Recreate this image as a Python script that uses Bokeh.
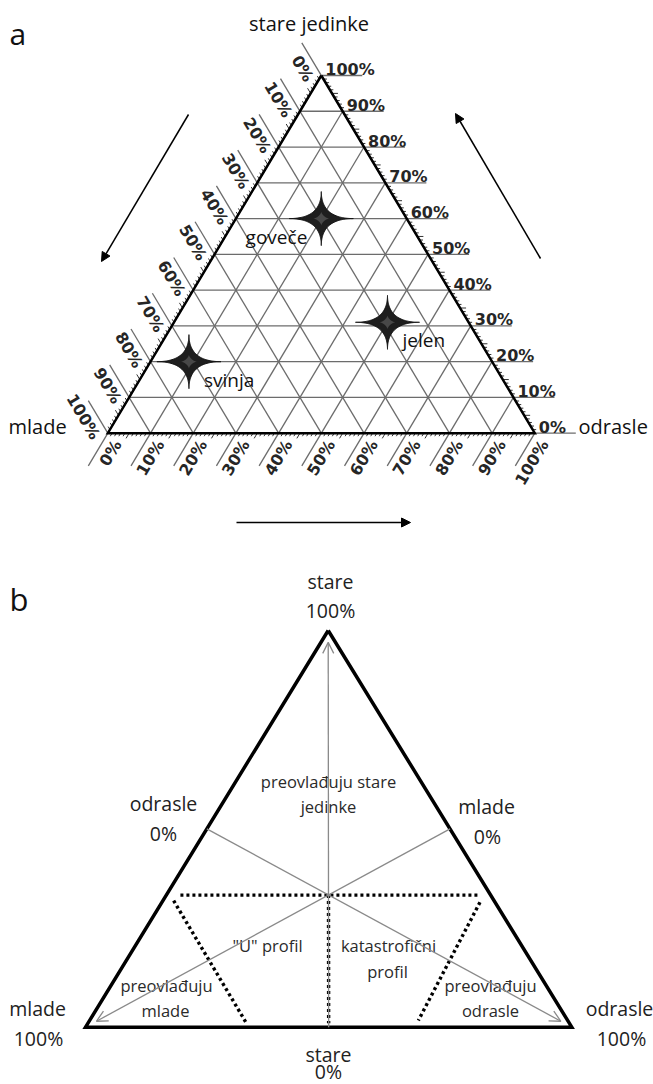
import math
import numpy as np
from bokeh.plotting import figure
from bokeh.models import Range1d, Arrow, NormalHead, OpenHead
from bokeh.core.properties import value
from bokeh.embed import file_html
from bokeh.resources import INLINE

# ---------------- data ----------------
grid_pct = [10, 20, 30, 40, 50, 60, 70, 80, 90]
label_pct = [0, 10, 20, 30, 40, 50, 60, 70, 80, 90, 100]
tick_labels = ["0%", "10%", "20%", "30%", "40%", "50%", "60%", "70%", "80%", "90%", "100%"]
minor_pct = list(range(1, 100))

species = ["goveče", "jelen", "svinja"]
sp_stare = [60, 31, 20]
sp_mlade = [20, 19, 71]
sp_odrasle = [20, 50, 9]
species_side = ["left", "right", "right"]

titles_a = ["stare jedinke", "mlade", "odrasle"]

# panel b: compositions (stare, mlade, odrasle) as fractions
b_median_starts = [(0.0, 0.5, 0.5), (0.5, 0.0, 0.5), (0.5, 0.5, 0.0)]
b_median_ends = [(1.0, 0.0, 0.0), (0.0, 1.0, 0.0), (0.0, 0.0, 1.0)]
b_bounds = [
    [(0.333, 0.638, 0.029), (0.333, 0.025, 0.642)],   # stare = 1/3
    [(0.319, 0.659, 0.022), (0.013, 0.664, 0.323)],   # mlade ~ 2/3
    [(0.315, 0.031, 0.654), (0.017, 0.307, 0.676)],   # odrasle ~ 2/3
    [(1 / 3, 1 / 3, 1 / 3), (0.010, 0.495, 0.495)],   # stare axis below centre
]
b_corner_titles = ["stare", "100%", "odrasle", "0%", "mlade", "0%",
                   "mlade", "100%", "odrasle", "100%", "stare", "0%"]
b_zone_texts = ["preovlađuju stare", "jedinke", "\"U\" profil", "katastrofični", "profil",
                "preovlađuju", "mlade", "preovlađuju", "odrasle"]

# ---------------- figure ----------------
W, H = 653, 1084
p = figure(width=W, height=H, x_range=Range1d(0, W), y_range=Range1d(0, H),
           output_backend="svg", toolbar_location=None, min_border=0,
           x_axis_location=None, y_axis_location=None)
p.grid.visible = False
p.outline_line_color = None
p.background_fill_color = "white"


def Y(yi):
    return H - yi


def tern(V, s, m, o):
    T, BL, BR = V
    return np.array([s * T[0] + m * BL[0] + o * BR[0], s * T[1] + m * BL[1] + o * BR[1]])


def unit(v):
    v = np.asarray(v, dtype=float)
    return v / np.hypot(*v)


# ================= panel a =================
aT = np.array([320.8, Y(75)])
aBL = np.array([107.3, Y(432.7)])
aBR = np.array([534.3, Y(432.7)])
A = (aT, aBL, aBR)
d_r = unit(aBR - aT)          # down-right along right edge
d_l = unit(aT - aBL)          # up-right along left edge
n_r = np.array([-d_r[1], d_r[0]])
n_l = np.array([-d_l[1], d_l[0]])

GRID = "#6c6c6c"
gx, gy = [], []
for v in label_pct:
    f = v / 100
    a = tern(A, f, 1 - f, 0); b = tern(A, f, 0, 1 - f)
    gx.append([a[0], b[0] + 41]); gy.append([a[1], b[1]])
    a = tern(A, 0, f, 1 - f); b = tern(A, 1 - f, f, 0); e = b - 38 * d_r
    gx.append([a[0], e[0]]); gy.append([a[1], e[1]])
    a = tern(A, 1 - f, 0, f); b = tern(A, 0, 1 - f, f); e = b - 38 * d_l
    gx.append([a[0], e[0]]); gy.append([a[1], e[1]])
p.multi_line(gx, gy, line_color=GRID, line_width=1.3)

# minor ticks
tx, ty = [], []
for v in minor_pct:
    if v % 10 == 0:
        continue
    f = v / 100
    L = 6 if v % 5 == 0 else 3.5
    e = tern(A, f, 0, 1 - f)
    tx.append([e[0], e[0] + L]); ty.append([e[1], e[1]])
    e = tern(A, 1 - f, f, 0); q = e - L * d_r
    tx.append([e[0], q[0]]); ty.append([e[1], q[1]])
    e = tern(A, 0, 1 - f, f); q = e - L * d_l
    tx.append([e[0], q[0]]); ty.append([e[1], q[1]])
p.multi_line(tx, ty, line_color="#333333", line_width=1.0)

p.line([aT[0], aBL[0], aBR[0], aT[0]], [aT[1], aBL[1], aBR[1], aT[1]],
       line_color="black", line_width=2.5, line_join="miter")

# tick labels
TF = value("DejaVu Sans")
rx, ry, lx, ly, bx, by = [], [], [], [], [], []
for v in label_pct:
    f = v / 100
    e = tern(A, f, 0, 1 - f); rx.append(e[0] + 4); ry.append(e[1] + 6)
    e = tern(A, 1 - f, f, 0); q = e - 2 * d_r - 3 * n_r; lx.append(q[0]); ly.append(q[1])
    e = tern(A, 0, 1 - f, f); q = e - 2 * d_l - 3 * n_l; bx.append(q[0]); by.append(q[1])
common = dict(text_font=TF, text_font_size="16px", text_font_style="bold", text_color="#262626")
p.text(rx, ry, text=tick_labels, text_align="left", text_baseline="alphabetic", **common)
p.text(lx, ly, text=tick_labels, angle=math.atan2(d_r[1], d_r[0]),
       text_align="right", text_baseline="top", **common)
p.text(bx, by, text=tick_labels, angle=math.atan2(d_l[1], d_l[0]),
       text_align="right", text_baseline="top", **common)

# stars
sx, sy, ix, iy = [], [], [], []
t = np.linspace(0, 2 * np.pi, 241)
c, s_ = np.cos(t), np.sin(t)
for st, ml, od in zip(sp_stare, sp_mlade, sp_odrasle):
    ctr = tern(A, st / 100, ml / 100, od / 100)
    sx.append(ctr[0] + 32 * np.sign(c) * np.abs(c) ** 4)
    sy.append(ctr[1] + 27 * np.sign(s_) * np.abs(s_) ** 4)
    ix.append(ctr[0] + 8 * np.sign(c) * np.abs(c) ** 3)
    iy.append(ctr[1] + 7 * np.sign(s_) * np.abs(s_) ** 3)
p.patches(sx, sy, fill_color="#1e1e1e", line_color="#111111", line_width=1)
p.patches(ix, iy, fill_color="#484848", line_color=None)

OF = value("Open Sans")
for name, st, ml, od, side in zip(species, sp_stare, sp_mlade, sp_odrasle, species_side):
    ctr = tern(A, st / 100, ml / 100, od / 100)
    if side == "left":
        p.text([ctr[0] - 14], [ctr[1] - 18], text=[name], text_align="right", text_baseline="middle",
               text_font=OF, text_font_size="19px", text_color="#111111")
    else:
        p.text([ctr[0] + 15], [ctr[1] - 18], text=[name], text_align="left", text_baseline="middle",
               text_font=OF, text_font_size="19px", text_color="#111111")

p.text([308.5], [Y(23)], text=[titles_a[0]], text_align="center", text_baseline="middle",
       text_font=OF, text_font_size="20px", text_color="#111111")
p.text([8], [Y(426)], text=[titles_a[1]], text_align="left", text_baseline="middle",
       text_font=OF, text_font_size="20px", text_color="#111111")
p.text([578], [Y(426)], text=[titles_a[2]], text_align="left", text_baseline="middle",
       text_font=OF, text_font_size="20px", text_color="#111111")
p.text([9], [Y(33)], text=["a"], text_align="left", text_baseline="alphabetic",
       text_font=OF, text_font_size="30px", text_color="#111111")

for (x0, y0, x1, y1) in [(188, 114, 101, 261), (540, 258, 455, 113), (236, 522, 410, 522)]:
    p.add_layout(Arrow(end=NormalHead(size=9, fill_color="black", line_color="black"),
                       x_start=x0, y_start=Y(y0), x_end=x1, y_end=Y(y1),
                       line_color="black", line_width=1.5))

# ================= panel b =================
bT = np.array([327.7, Y(630)])
bBL = np.array([85.0, Y(1026.7)])
bBR = np.array([571.3, Y(1026.7)])
B = (bT, bBL, bBR)

MED = "#8a8a8a"
for st, en in zip(b_median_starts, b_median_ends):
    a = tern(B, *st); b = tern(B, *en)
    tip = a + 0.97 * (b - a)
    p.add_layout(Arrow(end=OpenHead(size=11, line_color=MED, line_width=1.3),
                       x_start=a[0], y_start=a[1], x_end=tip[0], y_end=tip[1],
                       line_color=MED, line_width=1.3))

dx, dy = [], []
for seg in b_bounds:
    a = tern(B, *seg[0]); b = tern(B, *seg[1])
    dx.append([a[0], b[0]]); dy.append([a[1], b[1]])
p.multi_line(dx, dy, line_color="black", line_width=3.4, line_dash="3 3")

p.line([bT[0], bBL[0], bBR[0], bT[0]], [bT[1], bBL[1], bBR[1], bT[1]],
       line_color="black", line_width=3.5, line_join="miter")

corner_pos = [(330, 581), (330, 610), (163, 803), (163, 833), (486, 806), (487, 836),
              (37, 1008), (38, 1038), (619, 1008), (621, 1038), (328, 1054), (328, 1071)]
p.text([q[0] for q in corner_pos], [Y(q[1]) for q in corner_pos], text=b_corner_titles,
       text_align="center", text_baseline="middle", text_font=OF, text_font_size="19.5px",
       text_color="#222222")

zone_pos = [(328, 781), (328, 806), (267, 945), (388, 945), (387, 971),
            (166, 985), (165, 1010), (490, 985), (490, 1010)]
p.text([q[0] for q in zone_pos], [Y(q[1]) for q in zone_pos], text=b_zone_texts,
       text_align="center", text_baseline="middle", text_font=OF, text_font_size="16.5px",
       text_color="#2a2a2a")

p.text([9], [Y(598)], text=["b"], text_align="left", text_baseline="alphabetic",
       text_font=OF, text_font_size="31px", text_color="#111111")

open("out.html", "w").write(file_html(p, INLINE))
